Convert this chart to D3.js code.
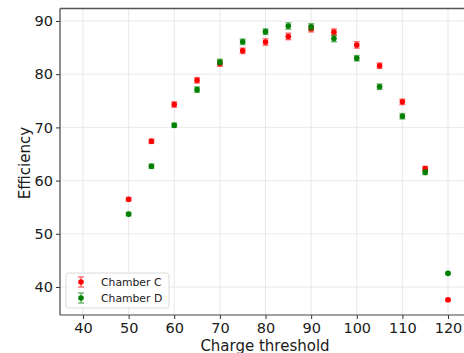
<!DOCTYPE html>
<html>
<head>
<meta charset="utf-8">
<script src="https://cdn.jsdelivr.net/npm/d3@7"></script>
<style>
  body { margin: 0; background: #fff; }
  svg { display: block; font-family: 'DejaVu Sans', sans-serif; }
</style>
</head>
<body>
<svg id="chart" width="464" height="353"></svg>
<script>
'use strict';

// charge thresholds
let thresholds = [50, 55, 60, 65, 70, 75, 80, 85, 90, 95, 100, 105, 110, 115, 120];

let chamberC = [56.5, 67.4, 74.3, 78.85, 82.0, 84.4, 86.05, 87.1, 88.55, 87.9, 85.5, 81.6, 74.8, 62.25, 37.6];
let chamberCErr = [0.3, 0.4, 0.5, 0.5, 0.5, 0.5, 0.6, 0.6, 0.6, 0.6, 0.6, 0.5, 0.5, 0.4, 0.2];

let chamberD = [53.7, 62.7, 70.4, 77.1, 82.3, 86.1, 88.0, 89.06, 88.9, 86.7, 83.0, 77.65, 72.1, 61.55, 42.57];
let chamberDErr = [0.3, 0.4, 0.4, 0.5, 0.5, 0.5, 0.5, 0.6, 0.6, 0.6, 0.5, 0.5, 0.5, 0.4, 0.2];

let xTicks = [40, 50, 60, 70, 80, 90, 100, 110, 120];
let yTicks = [40, 50, 60, 70, 80, 90];

let seriesNames = ['Chamber C', 'Chamber D'];
let seriesColors = ['#ff0000', '#008000'];

let svg = d3.select('#chart');

let x = d3.scaleLinear().domain([40, 120]).range([83, 448]);
let y = d3.scaleLinear().domain([40, 90]).range([287, 21]);

let plotL = 60, plotR = 464, plotT = 8.5, plotB = 315;

// grid
let grid = svg.append('g');
grid.selectAll('line.gx').data(xTicks).join('line')
	.attr('x1', d => x(d)).attr('x2', d => x(d))
	.attr('y1', plotT).attr('y2', plotB)
	.attr('stroke', '#e6e6e6').attr('stroke-width', 0.9);
grid.selectAll('line.gy').data(yTicks).join('line')
	.attr('x1', plotL).attr('x2', plotR)
	.attr('y1', d => y(d)).attr('y2', d => y(d))
	.attr('stroke', '#e6e6e6').attr('stroke-width', 0.9);

// axes
let xAxis = svg.append('g')
	.attr('transform', `translate(0,${plotB})`)
	.call(d3.axisBottom(x).tickValues(xTicks).tickSize(4).tickPadding(4));
let yAxis = svg.append('g')
	.attr('transform', `translate(${plotL},0)`)
	.call(d3.axisLeft(y).tickValues(yTicks).tickSize(4).tickPadding(3));

[xAxis, yAxis].forEach(a => {
	a.select('.domain').remove();
	a.selectAll('text').attr('font-size', 14.5).attr('fill', '#1a1a1a')
		.attr('font-family', "'DejaVu Sans', sans-serif");
	a.selectAll('.tick line').attr('stroke', '#333');
});

// spines
svg.append('line').attr('x1', plotL).attr('x2', plotL).attr('y1', plotT).attr('y2', plotB)
	.attr('stroke', '#444').attr('stroke-width', 1.2);
svg.append('line').attr('x1', plotL).attr('x2', plotR).attr('y1', plotB).attr('y2', plotB)
	.attr('stroke', '#444').attr('stroke-width', 1.2);
svg.append('line').attr('x1', plotL).attr('x2', plotR).attr('y1', plotT).attr('y2', plotT)
	.attr('stroke', '#555').attr('stroke-width', 1.4);

// labels
svg.append('text')
	.attr('x', 265).attr('y', 351)
	.attr('text-anchor', 'middle')
	.attr('font-size', 15).attr('fill', '#1a1a1a')
	.text('Charge threshold');
svg.append('text')
	.attr('transform', 'translate(30,163) rotate(-90)')
	.attr('text-anchor', 'middle')
	.attr('font-size', 15).attr('fill', '#1a1a1a')
	.text('Efficiency');

function drawSeries(vals, errs, color) {
	let data = thresholds.map((t, i) => ({t, v: vals[i], e: errs[i]}));
	let g = svg.append('g');
	let eb = g.selectAll('g').data(data).join('g').attr('opacity', 0.55);
	eb.append('line')
		.attr('x1', d => x(d.t)).attr('x2', d => x(d.t))
		.attr('y1', d => y(d.v - d.e)).attr('y2', d => y(d.v + d.e))
		.attr('stroke', color).attr('stroke-width', 1.5);
	eb.append('line')
		.attr('x1', d => x(d.t) - 3).attr('x2', d => x(d.t) + 3)
		.attr('y1', d => y(d.v - d.e)).attr('y2', d => y(d.v - d.e))
		.attr('stroke', color).attr('stroke-width', 1.5);
	eb.append('line')
		.attr('x1', d => x(d.t) - 3).attr('x2', d => x(d.t) + 3)
		.attr('y1', d => y(d.v + d.e)).attr('y2', d => y(d.v + d.e))
		.attr('stroke', color).attr('stroke-width', 1.5);
	g.selectAll('circle').data(data).join('circle')
		.attr('cx', d => x(d.t)).attr('cy', d => y(d.v))
		.attr('r', 2.8).attr('fill', color);
}

drawSeries(chamberC, chamberCErr, seriesColors[0]);
drawSeries(chamberD, chamberDErr, seriesColors[1]);

// legend
let legend = svg.append('g');
legend.append('rect')
	.attr('x', 66).attr('y', 273).attr('width', 103).attr('height', 35)
	.attr('rx', 2.5).attr('fill', '#fff').attr('fill-opacity', 0.8)
	.attr('stroke', '#d6d6d6').attr('stroke-width', 0.9);
seriesNames.forEach((name, i) => {
	let cy = 282 + i * 16;
	let lg = legend.append('g').attr('opacity', 0.55);
	lg.append('line').attr('x1', 81).attr('x2', 81).attr('y1', cy - 5).attr('y2', cy + 5)
		.attr('stroke', seriesColors[i]).attr('stroke-width', 1.5);
	[cy - 5, cy + 5].forEach(yy => lg.append('line')
		.attr('x1', 78).attr('x2', 84).attr('y1', yy).attr('y2', yy)
		.attr('stroke', seriesColors[i]).attr('stroke-width', 1.5));
	legend.append('circle').attr('cx', 81).attr('cy', cy).attr('r', 2.8).attr('fill', seriesColors[i]);
	legend.append('text')
		.attr('x', 101).attr('y', cy + 4)
		.attr('font-size', 10.8).attr('fill', '#1a1a1a')
		.text(name);
});
</script>
</body>
</html>
